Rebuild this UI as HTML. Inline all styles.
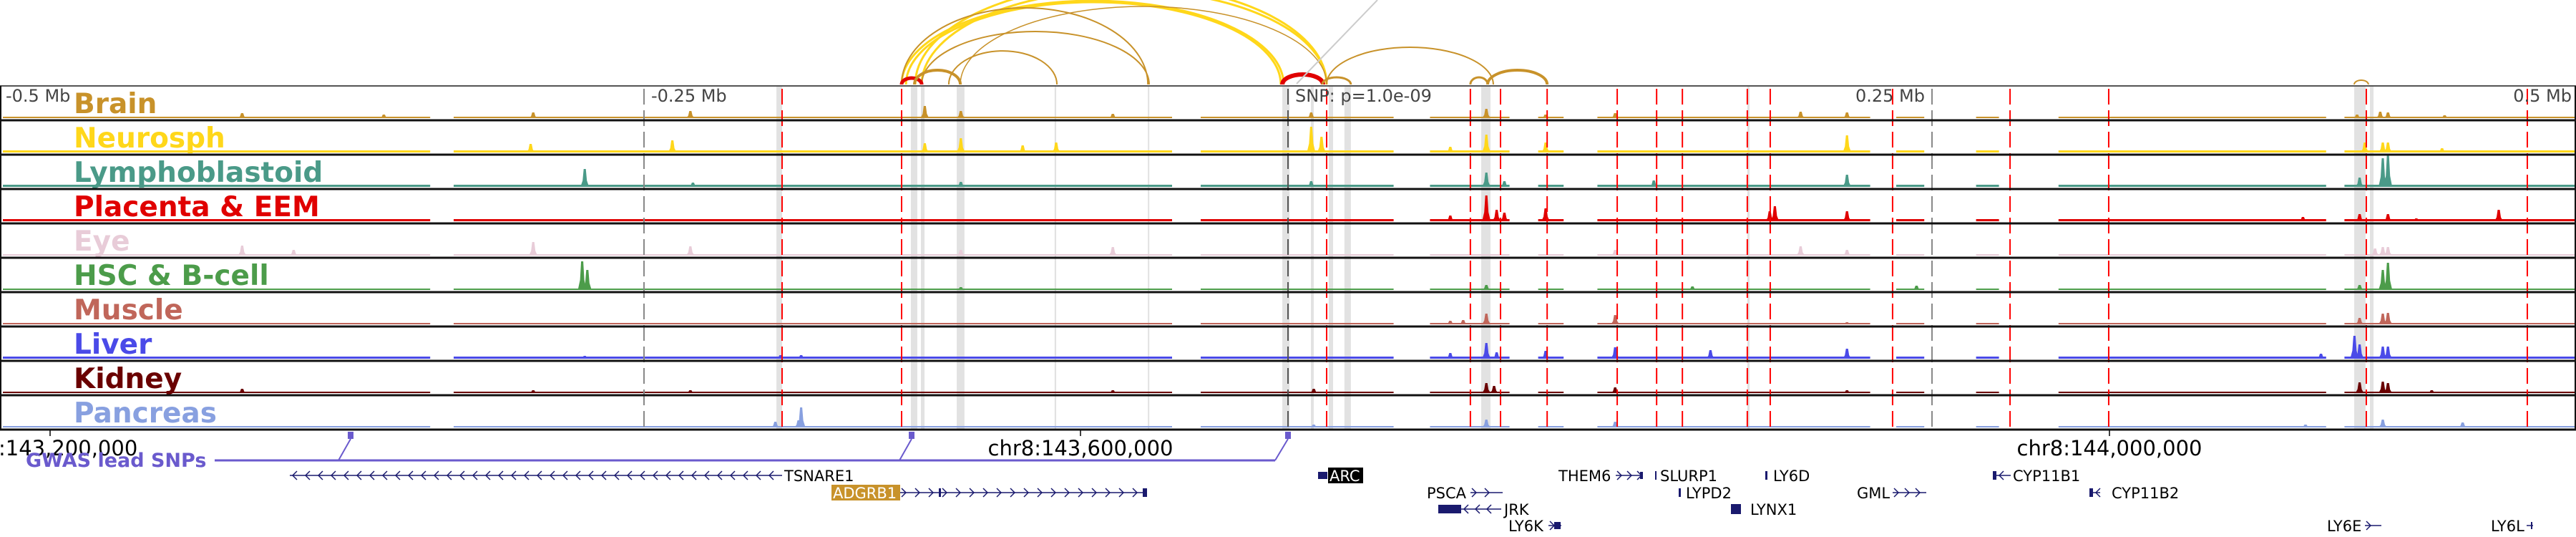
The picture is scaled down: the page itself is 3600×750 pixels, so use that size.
<!DOCTYPE html>
<html><head><meta charset="utf-8">
<style>
html,body{margin:0;padding:0;background:#fff;}
svg{display:block;}
text{font-family:"DejaVu Sans","Liberation Sans",sans-serif;}
</style></head>
<body>
<svg id="chart" width="3600" height="750" viewBox="0 0 3600 750" xmlns="http://www.w3.org/2000/svg">
<g id="bands"></g>
<g id="arcs"></g>
<g id="signals"></g>
<g id="vlines"></g>
<g id="frames"></g>
<g id="labels"></g>
<g id="genes"></g>
</svg>
<script>
// ---- data ----
const trackNames = ["Brain","Neurosph","Lymphoblastoid","Placenta & EEM","Eye","HSC & B-cell","Muscle","Liver","Kidney","Pancreas"];
const trackColors = ["#c8922a","#ffd71a","#4a9a88","#e00000","#e8ccd8","#4c9c4a","#c0665a","#4a4ae8","#6a0000","#88a0e0"];
const baseLevels = [2,3,3,3,2,2,2,3,2,2];
const brainPeaks = [[-406,7],[-351,5],[-293,8],[-232,10],[-141,17],[-127,10],[-68,6],[9,8],[77,13],[100,5],[127,7],[199,9],[217,8],[415,5],[424,9],[427,8],[449,4]];
const neuroPeaks = [[-294,12],[-239,17],[-141,13],[-127,20],[-103,10],[-90,14],[9,36],[13,22],[63,8],[77,25],[100,14],[217,24],[418,14],[425,14],[427,14],[448,6]];
const lymphoPeaks = [[-273,25],[-231,6],[-127,7],[9,8],[77,20],[84,8],[142,9],[217,17],[416,13],[425,40],[427,44],[480,3]];
const placentaPeaks = [[-364,3],[63,8],[77,36],[81,16],[84,12],[100,18],[189,21],[187,14],[217,14],[394,6],[416,10],[427,10],[470,16],[438,4]];
const eyePeaks = [[-406,14],[-386,8],[-293,19],[-232,13],[-127,8],[-68,12],[127,8],[199,13],[217,8],[422,10],[425,12],[427,12]];
const hscPeaks = [[-274,40],[-272,28],[-127,4],[77,7],[157,5],[244,6],[416,7],[425,28],[427,38]];
const musclePeaks = [[63,5],[68,6],[77,15],[127,13],[217,3],[416,9],[425,15],[427,16]];
const liverPeaks = [[-273,4],[-189,5],[-197,5],[63,8],[77,22],[81,9],[100,11],[127,16],[164,12],[217,14],[414,32],[416,20],[425,17],[427,17],[401,7]];
const kidneyPeaks = [[-406,6],[-293,4],[-232,4],[-68,4],[10,6],[77,14],[80,10],[127,8],[217,4],[416,15],[425,16],[427,14],[444,4]];
const pancreasPeaks = [[-199,8],[-190,10],[-189,28],[10,4],[77,11],[127,8],[425,11],[456,7],[395,4]];
const allPeaks = [brainPeaks,neuroPeaks,lymphoPeaks,placentaPeaks,eyePeaks,hscPeaks,musclePeaks,liverPeaks,kidneyPeaks,pancreasPeaks];
const gapsKb = [[-333,-325],[-45,-35],[41,54],[86,96],[107,119],[226,235],[247,266],[276,298],[403,409]];
const redLinesKb = [[-196.4],[-150],[15],[70.8],[82.5],[100.6],[127.8],[143.1],[153.1],[178.3],[187.2],[234.7],[280.3],[318.6],[418.6],[481.1]];
const tickKb = [-500,-250,0,250,500];
const tickLabels = ["-0.5 Mb","-0.25 Mb","SNP: p=1.0e-09","0.25 Mb","0.5 Mb"];
const bandsKb = [[-198.6,-196.4],[-146.4,-143.9],[-142.5,-141.1],[-128.6,-125.6],[-90.6,-90],[-54.4,-53.9],[-2.2,0.6],[8.9,10],[15.8,17.5],[21.9,24.4],[75,78.6],[178.3,179.2],[413.9,418.3],[420,421.4]];
// arcs: [startKb, endKb, heightPx]
const arcStart = [-150,-148.3,-144.7,-142.2,-150,-127.2,-142.2,-131.7,-150,-145,-2.2,15,13.3,70.8,77.5,413.9];
const arcEnd   = [-1.7,-2.8,15,15,-54.4,15,-53.9,-89.7,-142.2,-127.2,13.6,79.7,24.4,77.5,100.6,419.4];
const arcHeight= [117,115,140,132,107,109,74,47,9,20,14,52,10,10,20,6];
const arcColor = ["#ffd71a","#ffd71a","#ffd71a","#ffd71a","#c8922a","#c8922a","#c8922a","#c8922a","#e00000","#c8922a","#e00000","#c8922a","#c8922a","#c8922a","#c8922a","#c8922a"];
const arcWidth = [3,3,3,3,2,1.5,2,2,5,4,6,2,3,3,4,2];

// ---- scales ----
const X0=1800, PXKB=3.6;
const xs = kb => X0 + kb*PXKB;
const TOP=120, TH=48;
const NS="http://www.w3.org/2000/svg";
function mk(tag, attrs, parent){const e=document.createElementNS(NS,tag);for(const k in attrs)e.setAttribute(k,attrs[k]);parent.appendChild(e);return e;}
const gB=document.getElementById('bands'), gA=document.getElementById('arcs'), gS=document.getElementById('signals'),
      gV=document.getElementById('vlines'), gF=document.getElementById('frames'), gL=document.getElementById('labels'), gG=document.getElementById('genes');

bandsKb.forEach(b=>{
  const r=mk('rect',{x:xs(b[0]),y:TOP,width:Math.max(2,xs(b[1])-xs(b[0])),height:TH*10,fill:'#e2e2e2'},gB);
  
  
});

arcStart.forEach((s,i)=>{
  const x1=xs(s), x2=xs(arcEnd[i]), rx=(x2-x1)/2, ry=arcHeight[i];
  const p=mk('path',{d:`M${x1},${TOP-2} A${rx},${ry} 0 0 1 ${x2},${TOP-2}`,fill:'none',stroke:arcColor[i],'stroke-width':arcWidth[i]},gA);
  
  
});
const gl=mk('line',{x1:1812,y1:TOP-3,x2:1925,y2:0,stroke:'#cccccc','stroke-width':2},gA);



function covered(kb){return !gapsKb.some(g=>kb>=g[0]&&kb<=g[1]);}
allPeaks.forEach((peaks,t)=>{
  const base=TOP+TH*(t+1)-3, col=trackColors[t];
  const g=mk('g',{},gS);
  
  
  let segs=[], cur=-500;
  gapsKb.forEach(gp=>{segs.push([cur,gp[0]]);cur=gp[1];});
  segs.push([cur,500]);
  segs.forEach(sg=>{
    const r=mk('rect',{x:xs(sg[0])+4,y:base-baseLevels[t],width:Math.max(0,xs(sg[1])-xs(sg[0])-4),height:baseLevels[t],fill:col},g);
    
    
  });
  peaks.forEach(p=>{
    if(!covered(p[0]))return;
    const x=xs(p[0]), h=p[1];
    const poly=mk('polygon',{points:`${x-6},${base} ${x-3},${base-h*0.35} ${x-1.5},${base-h} ${x+1.5},${base-h} ${x+3},${base-h*0.35} ${x+6},${base}`,fill:col},g);
    
    
  });
});

redLinesKb.forEach(r=>{
  const l=mk('line',{x1:xs(r[0]),y1:TOP,x2:xs(r[0]),y2:TOP+TH*10,stroke:'#ff0000','stroke-width':2,'stroke-dasharray':'22 8','stroke-dashoffset':'-4'},gV);
  
  
});
tickKb.forEach((k,i)=>{
  if(i===0||i===4)return;
  const l=mk('line',{x1:xs(k),y1:TOP,x2:xs(k),y2:TOP+TH*10,stroke:i===2?'#555':'#888','stroke-width':2,'stroke-dasharray':'22 8','stroke-dashoffset':'-4'},gV);
  
  
});

for(let i=0;i<=10;i++){
  const y=TOP+TH*i;
  const l=mk('line',{x1:0,y1:y,x2:3600,y2:y,stroke:i===0?'#555':'#111','stroke-width':i===0?2:3},gF);
  
  
}
const fl=mk('line',{x1:1,y1:TOP,x2:1,y2:TOP+TH*10,stroke:'#111','stroke-width':2},gF);


const fr=mk('line',{x1:3599,y1:TOP,x2:3599,y2:TOP+TH*10,stroke:'#111','stroke-width':2},gF);



tickKb.forEach((k,i)=>{
  let x=xs(k), anchor='start';
  if(i===0)x=8; else if(i===4){x=3594;anchor='end';} else if(i===3){x=xs(k)-10;anchor='end';} else x=xs(k)+10;
  const t=mk('text',{x:x,y:TOP+22,'font-size':24,fill:'#444','text-anchor':anchor},gL);
  t.textContent=tickLabels[i];
  
  
});
trackNames.forEach((n,i)=>{
  const t=mk('text',{x:103,y:TOP+TH*i+38,'font-size':39,'font-weight':'bold',fill:trackColors[i]},gL);
  t.textContent=n;
  
  
});

function txt(x,y,s,size,opts,name){
  const t=mk('text',Object.assign({x:x,y:y,'font-size':size,fill:'#000'},opts||{}),gG);
  t.textContent=s;
  
  
  return t;
}
[[70,':143,200,000',-2,'start'],[1510,'chr8:143,600,000',1510,'middle'],[2948,'chr8:144,000,000',2948,'middle']].forEach(c=>{
  const l=mk('line',{x1:c[0],y1:601,x2:c[0],y2:609,stroke:'#000','stroke-width':1.5},gG);
  
  
  txt(c[2],636,c[1],29,{'text-anchor':c[3]},'coordinate-label');
});
const gw=mk('polyline',{points:'300,643 1782,643',fill:'none',stroke:'#6a5acd','stroke-width':3},gG);


[[490,473],[1274,1257],[1800,1782]].forEach(s=>{
  const r=mk('rect',{x:s[0]-4,y:603,width:8,height:10,fill:'#6a5acd'},gG);
  
  
  const l=mk('line',{x1:s[0],y1:613,x2:s[1],y2:643,stroke:'#6a5acd','stroke-width':2},gG);
  
  
});
txt(36,652,'GWAS lead SNPs',27,{'font-weight':'bold',fill:'#6a5acd'},'gwas-track-label');

function gene(x1,x2,y,dir,name,spacing){
  const g=mk('g',{},gG);
  
  
  mk('line',{x1:x1,y1:y,x2:x2,y2:y,stroke:'#1a1a6e','stroke-width':1.5},g);
  for(let x=x1+6;x<x2-3;x+=spacing){
    const d=dir>0?`M${x-4},${y-6} L${x+2},${y} L${x-4},${y+6}`:`M${x+4},${y-6} L${x-2},${y} L${x+4},${y+6}`;
    mk('path',{d:d,fill:'none',stroke:'#1a1a6e','stroke-width':1.5},g);
  }
  return g;
}
function box(x,y,w,h){const r=mk('rect',{x:x,y:y,width:w,height:h,fill:'#1a1a6e'},gG);}
gene(405,1093,664,-1,'TSNARE1',18); txt(1096,672,'TSNARE1',21,{},'gene-label');
const ab=mk('rect',{x:1162,y:677,width:96,height:22,fill:'#c8922a'},gG);


txt(1164,696,'ADGRB1',21,{fill:'#fff'},'gene-label');
gene(1258,1603,688,1,'ADGRB1',19); box(1312,682,3,12); box(1597,682,6,12);
box(1842,659,13,10);
const arcb=mk('rect',{x:1856,y:653,width:49,height:22,fill:'#000'},gG);


txt(1858,672,'ARC',21,{fill:'#fff'},'gene-label');
txt(2178,672,'THEM6',21,{},'gene-label'); gene(2258,2296,664,1,'THEM6',14); box(2292,659,4,10);
box(2313,658,2,12); txt(2320,672,'SLURP1',21,{},'gene-label');
txt(1994,696,'PSCA',21,{},'gene-label'); gene(2055,2100,688,1,'PSCA',18);
box(2010,705,32,12); gene(2042,2098,711,-1,'JRK',16); txt(2102,719,'JRK',21,{},'gene-label');
txt(2108,742,'LY6K',21,{},'gene-label'); gene(2164,2182,734,1,'LY6K',40); box(2172,729,9,10);
box(2346,682,3,12); txt(2356,696,'LYPD2',21,{},'gene-label');
box(2467,658,3,12); txt(2478,672,'LY6D',21,{},'gene-label');
box(2419,704,14,14); txt(2446,719,'LYNX1',21,{},'gene-label');
txt(2595,696,'GML',21,{},'gene-label'); gene(2645,2692,688,1,'GML',15);
box(2785,658,5,12); gene(2790,2810,664,-1,'CYP11B1',40); txt(2813,672,'CYP11B1',21,{},'gene-label');
box(2920,682,5,12); gene(2925,2935,688,-1,'CYP11B2',40); txt(2951,696,'CYP11B2',21,{},'gene-label');
txt(3252,742,'LY6E',21,{},'gene-label'); gene(3305,3328,734,1,'LY6E',40);
txt(3481,742,'LY6L',21,{},'gene-label'); gene(3531,3540,734,1,'LY6L',40); box(3537,729,2,10);
</script>
</body></html>
